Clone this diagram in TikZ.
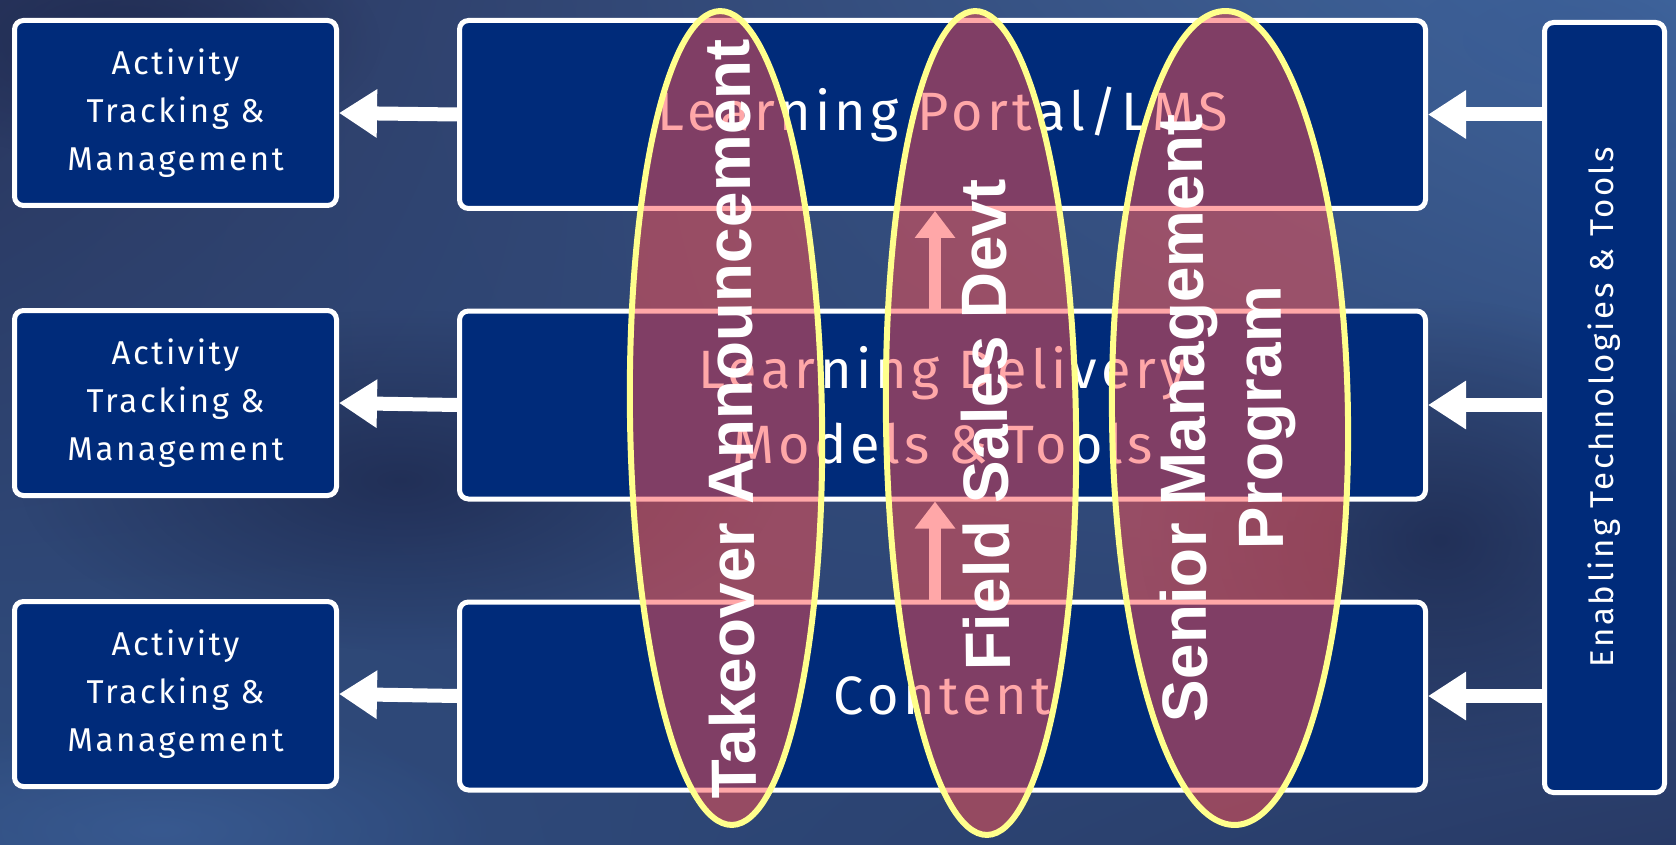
\documentclass[tikz,border=0pt]{standalone}
\usepackage{fontspec}
\newfontfamily\boxfont[LetterSpace=8]{Fira Sans}
\newfontfamily\ovalfont{Liberation Sans}
\usetikzlibrary{arrows.meta,fadings,shadings}

\definecolor{bgtl}{RGB}{42,54,94}
\definecolor{bgtr}{RGB}{64,102,158}
\definecolor{bgbl}{RGB}{48,78,128}
\definecolor{bgbr}{RGB}{40,58,102}
\definecolor{bgdark}{RGB}{30,42,80}
\definecolor{bglight}{RGB}{58,92,148}
\definecolor{boxblue}{RGB}{0,43,122}
\definecolor{ovalfill}{RGB}{255,81,82}
\definecolor{ovalline}{RGB}{255,255,140}

\tikzfading[name=softspot, inner color=transparent!0, outer color=transparent!100]

\begin{document}
\begin{tikzpicture}[
	x=1pt, y=-1pt,
	box/.style={draw=white, line width=5pt, fill=boxblue, rounded corners=9pt,
		text=white, align=center, inner sep=0pt},
	sidebox/.style={box, minimum width=322pt, minimum height=185pt,
		font=\boxfont\fontsize{33}{48}\selectfont},
	layerbox/.style={box, minimum width=966pt, minimum height=188pt,
		font=\boxfont\fontsize{54}{75}\selectfont},
	wharr/.style={draw=white, line width=14pt, -{Triangle[length=38pt,width=46pt]}},
	uparr/.style={draw=white, line width=12pt, -{Triangle[length=27pt,width=39pt]}},
	oval/.style={draw=ovalline, line width=6pt, fill=ovalfill, fill opacity=0.5},
	ovaltext/.style={text=white, align=center, inner sep=0pt,
		font=\ovalfont\bfseries\fontsize{64}{77}\selectfont},
	spot/.style={opacity=0.8, path fading=softspot}
	]
	% begin background
\useasboundingbox (0,0) rectangle (1676,845);
\shade[upper left=bgtl, upper right=bgtr, lower left=bgbl, lower right=bgbr]
	(0,0) rectangle (1676,845);
\fill[bgdark, spot] (400,480) ellipse [x radius=380pt, y radius=170pt];
\fill[bgdark, spot] (1440,540) ellipse [x radius=300pt, y radius=240pt];
\fill[bgdark, spot] (120,40) ellipse [x radius=260pt, y radius=120pt];
\fill[bglight, spot] (160,830) ellipse [x radius=340pt, y radius=110pt];
\fill[bglight, spot] (1560,40) ellipse [x radius=260pt, y radius=120pt];
% end background

			\node[sidebox] (act_1)   at (175.5, 113) {Activity\\Tracking \&\\Management};
			\node[sidebox] (act_2)   at (175.5, 403) {Activity\\Tracking \&\\Management};
			\node[sidebox] (act_3)   at (175.5, 694) {Activity\\Tracking \&\\Management};
			\node[layerbox] (lms_1)   at (942.5, 114.5) {Learning Portal/LMS};
			\node[layerbox] (ldm_2)   at (942.5, 405) {Learning Delivery\\Models \& Tools};
			\node[layerbox] (cnt_3)   at (942.5, 696) {Content};
			\node[box, minimum width=120pt, minimum height=770pt] (ett_4)   at (1604.5, 407.5) {};
			\node[text=white, rotate=90, inner sep=0pt, font=\boxfont\fontsize{33}{40}\selectfont]
				(ett_text)   at (ett_4.center) {Enabling Technologies \& Tools};

			\draw[wharr] (lms_1.west) -- (act_1.east);
			\draw[wharr] (ldm_2.west) -- (act_2.east);
			\draw[wharr] (cnt_3.west) -- (act_3.east);
			\draw[wharr] (ett_4.west |- lms_1.east) -- (lms_1.east);
			\draw[wharr] (ett_4.west |- ldm_2.east) -- (ldm_2.east);
			\draw[wharr] (ett_4.west |- cnt_3.east) -- (cnt_3.east);
			\draw[uparr] ([xshift=-7.5pt]cnt_3.north) -- ([xshift=-7.5pt]ldm_2.south);
			\draw[uparr] ([xshift=-7.5pt]ldm_2.north) -- ([xshift=-7.5pt]lms_1.south);

			% overlays
			\draw[oval, rotate around={0.85:(726,418)}] (726,418) ellipse [x radius=96pt, y radius=407pt];
			\draw[oval, rotate around={0.85:(981,423)}] (981,423) ellipse [x radius=95pt, y radius=412pt];
			\draw[oval, rotate around={0.7:(1230,418)}] (1230,418) ellipse [x radius=118pt, y radius=407pt];

			\node[ovaltext, rotate=90.5] (ta_1)   at (730, 419) {Takeover Announcement};
			\node[ovaltext, rotate=90.5] (fsd_2)   at (985, 425) {Field Sales Devt};
			\node[ovaltext, rotate=90.5] (smp_3)   at (1227, 418) {Senior Management\\Program};

\end{tikzpicture}
\end{document}
